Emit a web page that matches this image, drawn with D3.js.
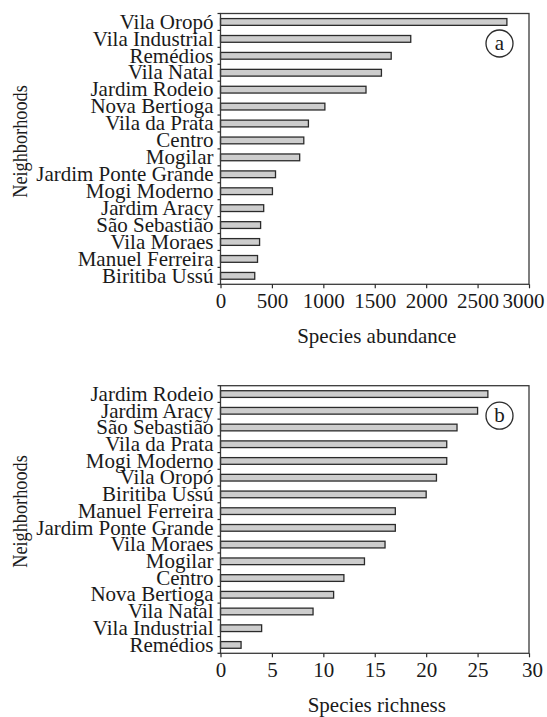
<!DOCTYPE html>
<html><head><meta charset="utf-8">
<script src="https://cdn.jsdelivr.net/npm/d3@7"></script>
<style>
html,body{margin:0;padding:0;background:#fff;}
text{font-family:"Liberation Serif","Times New Roman",serif;fill:#1a1a1a;}
</style></head>
<body>
<script>
// ---- data ----
const abundanceCategories = ["Vila Oropó","Vila Industrial","Remédios","Vila Natal","Jardim Rodeio","Nova Bertioga","Vila da Prata","Centro","Mogilar","Jardim Ponte Grande","Mogi Moderno","Jardim Aracy","São Sebastião","Vila Moraes","Manuel Ferreira","Biritiba Ussú"];
const abundanceValues = [2785,1850,1660,1565,1415,1015,855,810,770,535,505,420,390,380,360,333];
const abundanceTicks = [0,500,1000,1500,2000,2500,3000];

const richnessCategories = ["Jardim Rodeio","Jardim Aracy","São Sebastião","Vila da Prata","Mogi Moderno","Vila Oropó","Biritiba Ussú","Manuel Ferreira","Jardim Ponte Grande","Vila Moraes","Mogilar","Centro","Nova Bertioga","Vila Natal","Vila Industrial","Remédios"];
const richnessValues = [26,25,23,22,22,21,20,17,17,16,14,12,11,9,4,2];
const richnessTicks = [0,5,10,15,20,25,30];

const yTitle = "Neighborhoods";

// ---- drawing ----
const W = 547, H = 717;
const svg = d3.select("body").append("svg").attr("width", W).attr("height", H);

function panel(cfg){
  const {cats, vals, ticks, maxV, x0, x1, y0, y1, xTitle, tag, titleY, lastDx} = cfg;
  const g = svg.append("g");
  const x = d3.scaleLinear().domain([0, maxV]).range([x0, x1]);
  const y = d3.scaleBand().domain(cats).range([y0, y1]).paddingInner(0.6).paddingOuter(0.3);
  const step = y.step();
  const fontSize = 21;

  // bars
  g.selectAll("rect.bar").data(cats).enter().append("rect")
    .attr("class","bar")
    .attr("x", x(0))
    .attr("y", d => y(d))
    .attr("width", (d,i) => x(vals[i]) - x(0))
    .attr("height", y.bandwidth())
    .attr("fill", "#cdcdcd")
    .attr("stroke", "#2b2b2b")
    .attr("stroke-width", 1.3);

  // frame
  g.append("rect").attr("x", x0).attr("y", y0).attr("width", x1 - x0).attr("height", y1 - y0)
    .attr("fill", "none").attr("stroke", "#3a3a3a").attr("stroke-width", 1.3);

  // y boundary ticks
  const bounds = d3.range(cats.length + 1).map(i => y0 + i * step);
  g.selectAll("line.yt").data(bounds).enter().append("line")
    .attr("x1", x0 - 3).attr("x2", x0).attr("y1", d => d).attr("y2", d => d)
    .attr("stroke", "#2b2b2b").attr("stroke-width", 1.2);

  // y labels
  const yAxis = d3.axisLeft(y).tickSize(0).tickPadding(7);
  const ya = g.append("g").attr("transform", `translate(${x0},0)`).call(yAxis);
  ya.select(".domain").remove();
  ya.selectAll("text").attr("font-size", fontSize).attr("fill", "#1a1a1a")
    .attr("font-family", '"Liberation Serif","Times New Roman",serif').attr("dy", "0.32em");

  // x axis
  const xAxis = d3.axisBottom(x).tickValues(ticks).tickSize(4).tickPadding(5).tickFormat(d3.format("d"));
  const xa = g.append("g").attr("transform", `translate(0,${y1})`).call(xAxis);
  xa.select(".domain").remove();
  xa.selectAll("line").attr("stroke", "#2b2b2b").attr("stroke-width", 1.2);
  xa.selectAll("text").attr("font-size", fontSize).attr("fill", "#1a1a1a")
    .attr("font-family", '"Liberation Serif","Times New Roman",serif')
    .attr("y", 24).attr("dy", 0)
    .attr("dx", (d,i) => i === ticks.length - 1 ? lastDx : 0);

  // x title
  g.append("text").attr("x", (x0 + x1) / 2 + 2).attr("y", y1 + 59)
    .attr("text-anchor", "middle").attr("font-size", fontSize).text(xTitle);

  // y title
  g.append("text").attr("transform", `translate(26.5,${titleY}) rotate(-90) scale(0.87,1)`)
    .attr("text-anchor", "middle").attr("font-size", fontSize).text(yTitle);

  // panel tag
  const cx = x1 - 29.5, cy = y0 + 30;
  g.append("circle").attr("cx", cx).attr("cy", cy).attr("r", 13.5)
    .attr("fill", "none").attr("stroke", "#2b2b2b").attr("stroke-width", 1.3);
  g.append("text").attr("x", cx).attr("y", cy).attr("dy", "0.3em")
    .attr("text-anchor", "middle").attr("font-size", fontSize).text(tag);
}

panel({cats: abundanceCategories, vals: abundanceValues, ticks: abundanceTicks, maxV: 3000,
  x0: 220.5, x1: 529, y0: 13.5, y1: 284.3, xTitle: "Species abundance", tag: "a", titleY: 141.5, lastDx: -6});
panel({cats: richnessCategories, vals: richnessValues, ticks: richnessTicks, maxV: 30,
  x0: 220.5, x1: 529, y0: 385.7, y1: 653.3, xTitle: "Species richness", tag: "b", titleY: 511.5, lastDx: 3});
</script>
</body></html>
